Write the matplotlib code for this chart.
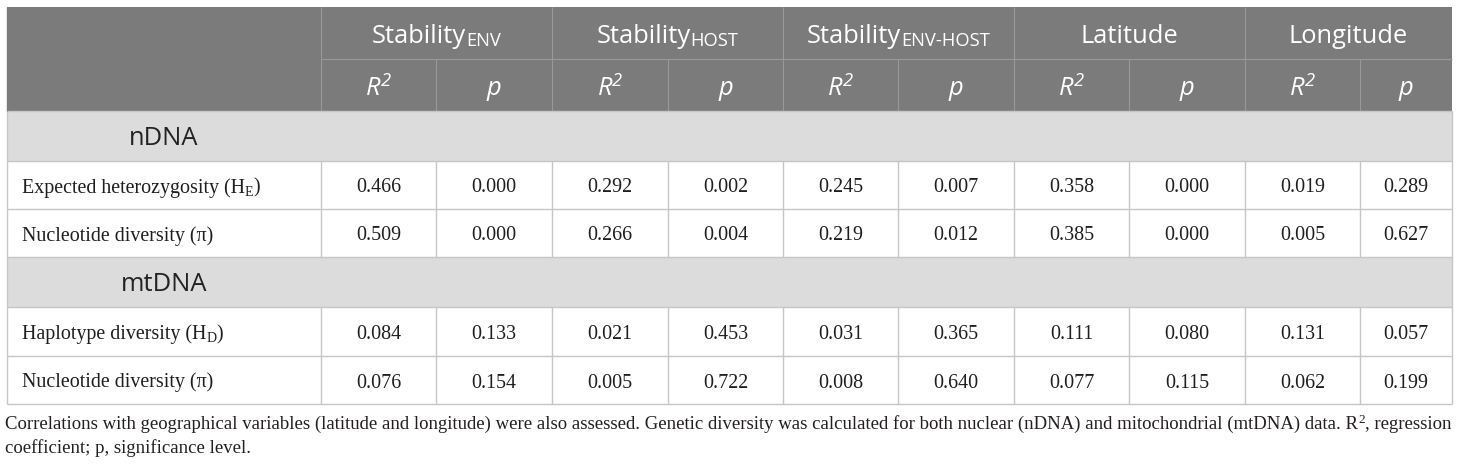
import matplotlib
matplotlib.use("Agg")
import matplotlib.pyplot as plt
from matplotlib.patches import Rectangle

# ---------------- data ----------------
group_titles = [("Stability", "ENV"), ("Stability", "HOST"), ("Stability", "ENV-HOST"),
                ("Latitude", ""), ("Longitude", "")]
sub_headers = ["R2", "p"]
sections = ["nDNA", "mtDNA"]
nDNA_labels = [("Expected heterozygosity (H", "E", ")"), ("Nucleotide diversity (\u03c0)", "", "")]
mtDNA_labels = [("Haplotype diversity (H", "D", ")"), ("Nucleotide diversity (\u03c0)", "", "")]
nDNA_values = [
    ["0.466", "0.000", "0.292", "0.002", "0.245", "0.007", "0.358", "0.000", "0.019", "0.289"],
    ["0.509", "0.000", "0.266", "0.004", "0.219", "0.012", "0.385", "0.000", "0.005", "0.627"],
]
mtDNA_values = [
    ["0.084", "0.133", "0.021", "0.453", "0.031", "0.365", "0.111", "0.080", "0.131", "0.057"],
    ["0.076", "0.154", "0.005", "0.722", "0.008", "0.640", "0.077", "0.115", "0.062", "0.199"],
]
caption_line1 = [("Correlations with geographical variables (latitude and longitude) were also assessed. "
                  "Genetic diversity was calculated for both nuclear (nDNA) and mitochondrial (mtDNA) data. R", 0),
                 ("2", 1), (", regression", 0)]
caption_line2 = "coefficient; p, significance level."

# ---------------- layout ----------------
W, H = 1460, 466
DPI = 100
fig = plt.figure(figsize=(W / DPI, H / DPI), dpi=DPI)
ax = fig.add_axes([0, 0, 1, 1])
ax.set_xlim(0, W)
ax.set_ylim(H, 0)
ax.axis("off")
renderer = fig.canvas.get_renderer()

row_edges = [7, 59, 111, 161, 209, 257, 307, 356, 404]
col_edges = [7, 321, 436, 552, 668, 783, 898, 1014, 1129, 1245, 1360, 1452]
left, right = col_edges[0], col_edges[-1]

HEAD_BG = "#7b7b7b"
HEAD_LINE = "#999999"
GROUP_BG = "#dcdcdc"
CELL_LINE = "#c6c6c6"
TXT = "#1e1e1e"
SANS = "Open Sans"
SERIF = "Liberation Serif"

def px(pt):
    return pt * DPI / 72.0

def rich(x, y, pieces, ha="center", color=TXT, family=SANS):
    """pieces: list of (text, fontsize_pt, dy_px, style). y is baseline."""
    texts = []
    widths = []
    for s, fs, dy, st in pieces:
        t = ax.text(0, y + dy, s, fontsize=fs, family=family, style=st, color=color,
                    ha="left", va="baseline")
        texts.append(t)
        widths.append(t.get_window_extent(renderer).width if s else 0)
    total = sum(widths)
    x0 = x - total / 2 if ha == "center" else x
    for t, w in zip(texts, widths):
        t.set_x(x0)
        x0 += w
    return texts

# header background
ax.add_patch(Rectangle((left, row_edges[0]), right - left, row_edges[2] - row_edges[0],
                       facecolor=HEAD_BG, edgecolor="none", zorder=0))
# group rows
for r0 in (2, 5):
    ax.add_patch(Rectangle((left, row_edges[r0]), right - left, row_edges[r0 + 1] - row_edges[r0],
                           facecolor=GROUP_BG, edgecolor="none", zorder=0))

# header lines
ax.hlines(row_edges[1], col_edges[1], right, color=HEAD_LINE, lw=0.8, zorder=1)
for i, xe in enumerate(col_edges[1:-1], start=1):
    top = row_edges[0] if i % 2 == 1 else row_edges[1]
    ax.vlines(xe, top, row_edges[2], color=HEAD_LINE, lw=0.8, zorder=1)

# body lines
for r in range(2, len(row_edges)):
    ax.hlines(row_edges[r], left, right, color=CELL_LINE, lw=1.0, zorder=1)
data_rows = [3, 4, 6, 7]
for r in data_rows:
    for xe in col_edges:
        ax.vlines(xe, row_edges[r], row_edges[r + 1], color=CELL_LINE, lw=1.0, zorder=1)
for r in (2, 5):
    ax.vlines([left, right], row_edges[r], row_edges[r + 1], color=CELL_LINE, lw=1.0, zorder=1)
ax.vlines(left, row_edges[0], row_edges[2], color=HEAD_BG, lw=1.0, zorder=1)

def center(a, b):
    return (a + b) / 2.0

# header text
HFS = 18.4
SUBFS = 13.2
hcap = px(16.8) * 0.714
for g, (main, sub) in enumerate(group_titles):
    cx = center(col_edges[1 + 2 * g], col_edges[3 + 2 * g])
    base = center(row_edges[0], row_edges[1]) + hcap / 2 + 1.5
    pieces = [(main, HFS, 0, "normal")]
    if sub:
        pieces.append((sub, SUBFS, 3.5, "normal"))
    rich(cx, base, pieces, color="white", family=SANS)
    for k, sh in enumerate(sub_headers):
        cx2 = center(col_edges[1 + 2 * g + k], col_edges[2 + 2 * g + k])
        base2 = center(row_edges[1], row_edges[2]) + hcap / 2 + 1.5
        if sh == "R2":
            rich(cx2, base2, [("R", HFS, 0, "italic"), ("2", SUBFS, -8.5, "italic")],
                 color="white", family=SANS)
        else:
            rich(cx2, base2, [(sh, HFS, 0, "italic")], color="white", family=SANS)

# section labels
for name, r in zip(sections, (2, 5)):
    base = center(row_edges[r], row_edges[r + 1]) + hcap / 2 + 1
    rich(center(col_edges[0], col_edges[1]), base, [(name, HFS, 0, "normal")],
         color="#222222", family=SANS)

# body
DFS = 14.4
for labels, values, rows in ((nDNA_labels, nDNA_values, (3, 4)), (mtDNA_labels, mtDNA_values, (6, 7))):
    for (a, sub, b), vals, r in zip(labels, values, rows):
        base = center(row_edges[r], row_edges[r + 1]) + 7.5
        pieces = [(a, DFS, 0, "normal")]
        if sub:
            pieces += [(sub, 10, 3.5, "normal"), (b, DFS, 0, "normal")]
        rich(22, base, pieces, ha="left", family=SERIF)
        for j, v in enumerate(vals):
            cx = center(col_edges[1 + j], col_edges[2 + j])
            rich(cx, base, [(v, DFS, 0, "normal")], family=SERIF)

# caption
CFS = 13.5
rich(5, 429, [(s, CFS if sup == 0 else 9.5, -6 if sup else 0, "normal") for s, sup in caption_line1],
     ha="left", color="#231f20", family=SERIF)
rich(5, 453, [(caption_line2, CFS, 0, "normal")], ha="left", color="#231f20", family=SERIF)

fig.savefig("out.png", dpi=DPI, facecolor="white")
